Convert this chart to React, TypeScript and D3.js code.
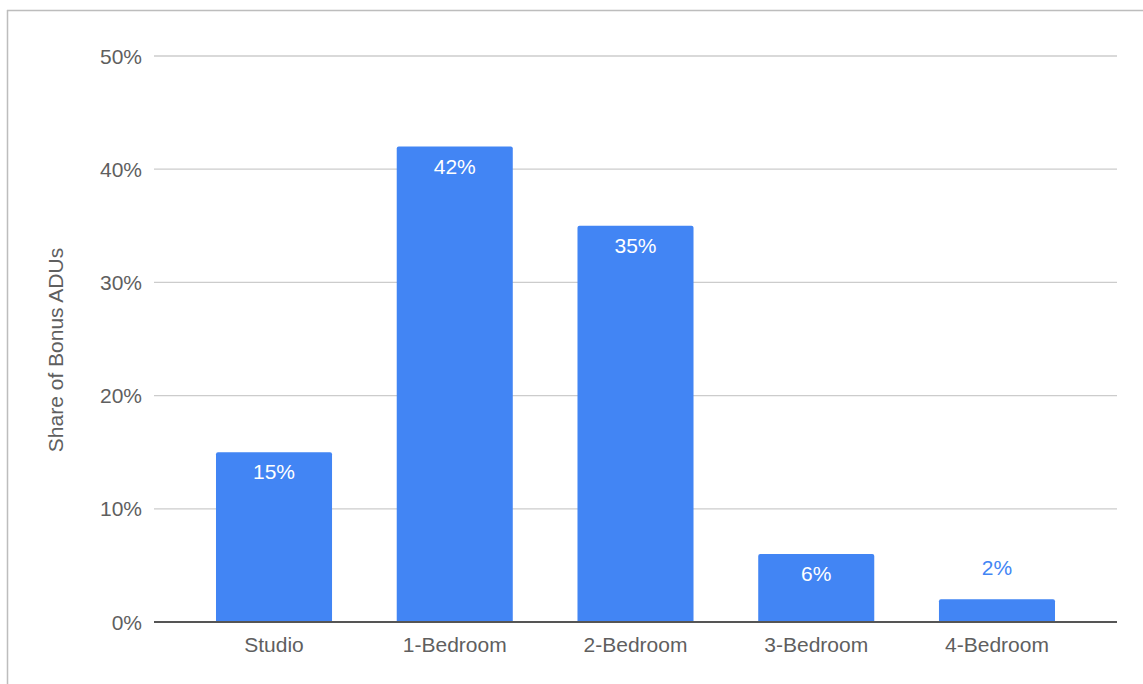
import React from "react";
import * as d3 from "d3";

const categories = ["Studio", "1-Bedroom", "2-Bedroom", "3-Bedroom", "4-Bedroom"];
const shares = [15, 42, 35, 6, 2];
const yTicks = [0, 10, 20, 30, 40, 50];
const yTitle = "Share of Bonus ADUs";

const W = 1143;
const H = 684;
const left = 154;
const right = 1117;
const top = 56;
const bottom = 622;
const BLUE = "#4285F4";
const FONT = "'Liberation Sans', Arial, sans-serif";
const FS = 21;

export default function App() {
  const x = d3
    .scaleBand<string>()
    .domain(categories)
    .range([left, right])
    .paddingInner(0.358)
    .paddingOuter(0.343);
  const y = d3.scaleLinear().domain([0, 50]).range([bottom, top]);
  const bw = x.bandwidth();
  const r = 2;

  const barPath = (x0: number, y0: number, w: number, h: number) => {
    const rr = Math.min(r, h);
    return `M${x0},${y0 + h}V${y0 + rr}Q${x0},${y0} ${x0 + rr},${y0}H${x0 + w - rr}Q${x0 + w},${y0} ${x0 + w},${y0 + rr}V${y0 + h}Z`;
  };

  return (
    <svg
      width={W}
      height={H}
      style={{ position: "absolute", left: 0, top: 0, background: "#fff" }}
      fontFamily={FONT}
    >
      <rect x={0} y={0} width={W} height={H} fill="#fff" />
      <line x1={7.5} x2={7.5} y1={10} y2={H} stroke="#bdbdbd" strokeWidth={1.5} />
      <line x1={7} x2={W} y1={10.5} y2={10.5} stroke="#bdbdbd" strokeWidth={1.5} />

      {yTicks.map((t) =>
        t === 0 ? null : (
          <line key={"g" + t} x1={left} x2={right} y1={y(t)} y2={y(t)} stroke="#cccccc" strokeWidth={1.3} />
        )
      )}
      {yTicks.map((t) => (
        <text
          key={"t" + t}
          x={142}
          y={y(t)}
          dy="0.36em"
          textAnchor="end"
          fontSize={FS}
          fill="#5f5f5f"
        >
          {t}%
        </text>
      ))}

      <text
        transform={`translate(63, 350) rotate(-90)`}
        textAnchor="middle"
        fontSize={FS}
        fill="#5f5f5f"
      >
        {yTitle}
      </text>

      {categories.map((c, i) => {
        const v = shares[i];
        const x0 = x(c)!;
        const y0 = y(v);
        const h = bottom - y0;
        const inside = h > 40;
        return (
          <g key={c}>
            <path d={barPath(x0, y0, bw, h)} fill={BLUE} />
            <text
              x={x0 + bw / 2}
              y={inside ? y0 + 27 : y0 - 24}
              textAnchor="middle"
              fontSize={FS}
              fill={inside ? "#ffffff" : BLUE}
            >
              {v}%
            </text>
            <text x={x0 + bw / 2} y={652} textAnchor="middle" fontSize={FS} fill="#5f5f5f">
              {c}
            </text>
          </g>
        );
      })}

      <line x1={left} x2={right} y1={bottom} y2={bottom} stroke="#555555" strokeWidth={2} />
    </svg>
  );
}
